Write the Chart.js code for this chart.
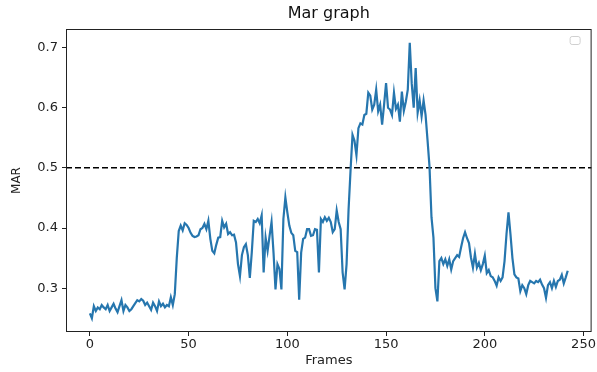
<!DOCTYPE html>
<html>
<head>
<meta charset="utf-8">
<script src="https://cdn.jsdelivr.net/npm/chart.js@4"></script>
<style>
  html, body { margin: 0; padding: 0; background: #fff; }
  canvas { display: block; }
</style>
</head>
<body>
<canvas id="mar-chart" width="597" height="372"></canvas>
<script>
// MAR value per frame
const marValues = [
  0.258, 0.250, 0.270, 0.262, 0.268, 0.265, 0.272, 0.268, 0.265, 0.272,
  0.262, 0.268, 0.274, 0.266, 0.260, 0.270, 0.280, 0.262, 0.272, 0.268,
  0.262, 0.265, 0.270, 0.275, 0.280, 0.278, 0.282, 0.279, 0.272, 0.276,
  0.270, 0.264, 0.276, 0.270, 0.262, 0.278, 0.270, 0.274, 0.268, 0.272,
  0.270, 0.285, 0.272, 0.290, 0.350, 0.395, 0.404, 0.396, 0.408, 0.405,
  0.400, 0.392, 0.387, 0.385, 0.386, 0.388, 0.398, 0.400, 0.407, 0.398,
  0.412, 0.382, 0.362, 0.358, 0.372, 0.384, 0.385, 0.412, 0.401, 0.407,
  0.390, 0.393, 0.388, 0.389, 0.376, 0.340, 0.320, 0.355, 0.368, 0.373,
  0.355, 0.317, 0.360, 0.412, 0.410, 0.415, 0.408, 0.421, 0.326, 0.384,
  0.362, 0.387, 0.410, 0.359, 0.298, 0.340, 0.332, 0.298, 0.415, 0.451,
  0.426, 0.404, 0.392, 0.388, 0.362, 0.360, 0.281, 0.359, 0.382, 0.384,
  0.398, 0.398, 0.387, 0.388, 0.398, 0.397, 0.326, 0.415, 0.410, 0.418,
  0.412, 0.417, 0.410, 0.393, 0.398, 0.429, 0.410, 0.398, 0.326, 0.298,
  0.340, 0.430, 0.495, 0.555, 0.545, 0.521, 0.566, 0.574, 0.572, 0.588,
  0.590, 0.625, 0.620, 0.597, 0.605, 0.630, 0.594, 0.605, 0.572, 0.605,
  0.641, 0.600, 0.597, 0.588, 0.625, 0.598, 0.605, 0.577, 0.627, 0.595,
  0.610, 0.630, 0.708, 0.640, 0.600, 0.666, 0.592, 0.612, 0.586, 0.612,
  0.588, 0.546, 0.502, 0.418, 0.384, 0.300, 0.278, 0.345, 0.350, 0.340,
  0.348, 0.337, 0.348, 0.331, 0.345, 0.350, 0.355, 0.352, 0.368, 0.383,
  0.393, 0.383, 0.375, 0.351, 0.334, 0.357, 0.334, 0.342, 0.330, 0.340,
  0.354, 0.325, 0.330, 0.320, 0.318, 0.312, 0.304, 0.318, 0.312, 0.318,
  0.345, 0.390, 0.426, 0.390, 0.350, 0.323, 0.318, 0.316, 0.295, 0.305,
  0.300, 0.290, 0.305, 0.312, 0.310, 0.308, 0.312, 0.310, 0.314, 0.306,
  0.300, 0.284, 0.305, 0.310, 0.300, 0.312, 0.302, 0.312, 0.314, 0.322,
  0.308, 0.318, 0.329
];
const marThreshold = 0.5;
const xTicks = [0, 50, 100, 150, 200, 250];
const yTicks = [0.3, 0.4, 0.5, 0.6, 0.7];

const points = marValues.map((v, i) => ({ x: i, y: v }));

// matplotlib style 5% margins
const xPad = (marValues.length - 1) * 0.05;
const xMin = -xPad;
const xMax = marValues.length - 1 + xPad;
const yLo = Math.min(...marValues);
const yHi = Math.max(...marValues);
const yPad = (yHi - yLo) * 0.05;

const FONT = "'DejaVu Sans', sans-serif";
const axisColor = "#222";

const framePlugin = {
  id: "frame",
  afterDraw(chart) {
    const { ctx, chartArea: a } = chart;
    ctx.save();
    ctx.strokeStyle = axisColor;
    ctx.lineWidth = 1;
    ctx.strokeRect(a.left + 0.5, a.top + 0.5, a.right - a.left - 1, a.bottom - a.top - 1);
    // empty legend box, as in the original
    ctx.strokeStyle = "#d0d0d0";
    ctx.beginPath();
    ctx.roundRect(a.right - 21.5, a.top + 7.5, 10, 8, 2);
    ctx.stroke();
    // title centred over the plot area
    ctx.fillStyle = "#111";
    ctx.font = "16px " + FONT;
    ctx.textAlign = "center";
    ctx.textBaseline = "middle";
    ctx.fillText("Mar graph", (a.left + a.right) / 2, 14);
    ctx.restore();
  }
};

new Chart(document.getElementById("mar-chart"), {
  type: "line",
  data: {
    datasets: [
      {
        label: "MAR",
        data: points,
        borderColor: "#2676ae",
        borderWidth: 2.2,
        pointRadius: 0,
        tension: 0,
      },
      {
        label: "threshold",
        data: [{ x: xMin, y: marThreshold }, { x: xMax, y: marThreshold }],
        borderColor: "#000",
        borderWidth: 1.5,
        borderDash: [6, 3],
        pointRadius: 0,
      },
    ],
  },
  plugins: [framePlugin],
  options: {
    responsive: false,
    animation: false,
    devicePixelRatio: 1,
    layout: { padding: { top: 29, right: 5, left: 0, bottom: 0 } },
    plugins: {
      legend: { display: false },
      tooltip: { enabled: false },
      title: { display: false },
    },
    scales: {
      x: {
        type: "linear",
        min: xMin,
        max: xMax,
        afterBuildTicks: (scale) => { scale.ticks = xTicks.map(v => ({ value: v })); },
        afterFit: (scale) => { scale.height = 40; },
        grid: { display: true, drawOnChartArea: false, drawTicks: true, tickLength: 4, color: axisColor },
        border: { display: false },
        ticks: { color: "#222", font: { family: FONT, size: 13 }, padding: 1, maxRotation: 0 },
        title: { display: true, text: "Frames", color: "#222", font: { family: FONT, size: 13 }, padding: { top: -1 } },
      },
      y: {
        min: yLo - yPad,
        max: yHi + yPad,
        afterBuildTicks: (scale) => { scale.ticks = yTicks.map(v => ({ value: v })); },
        afterFit: (scale) => { scale.width = 66; },
        grid: { display: true, drawOnChartArea: false, drawTicks: true, tickLength: 4, color: axisColor },
        border: { display: false },
        ticks: { color: "#222", font: { family: FONT, size: 13 }, padding: 4, callback: (v) => v.toFixed(1) },
        title: { display: true, text: "MAR", color: "#222", font: { family: FONT, size: 12 }, padding: { top: 10, bottom: 0 } },
      },
    },
  },
});
</script>
</body>
</html>
